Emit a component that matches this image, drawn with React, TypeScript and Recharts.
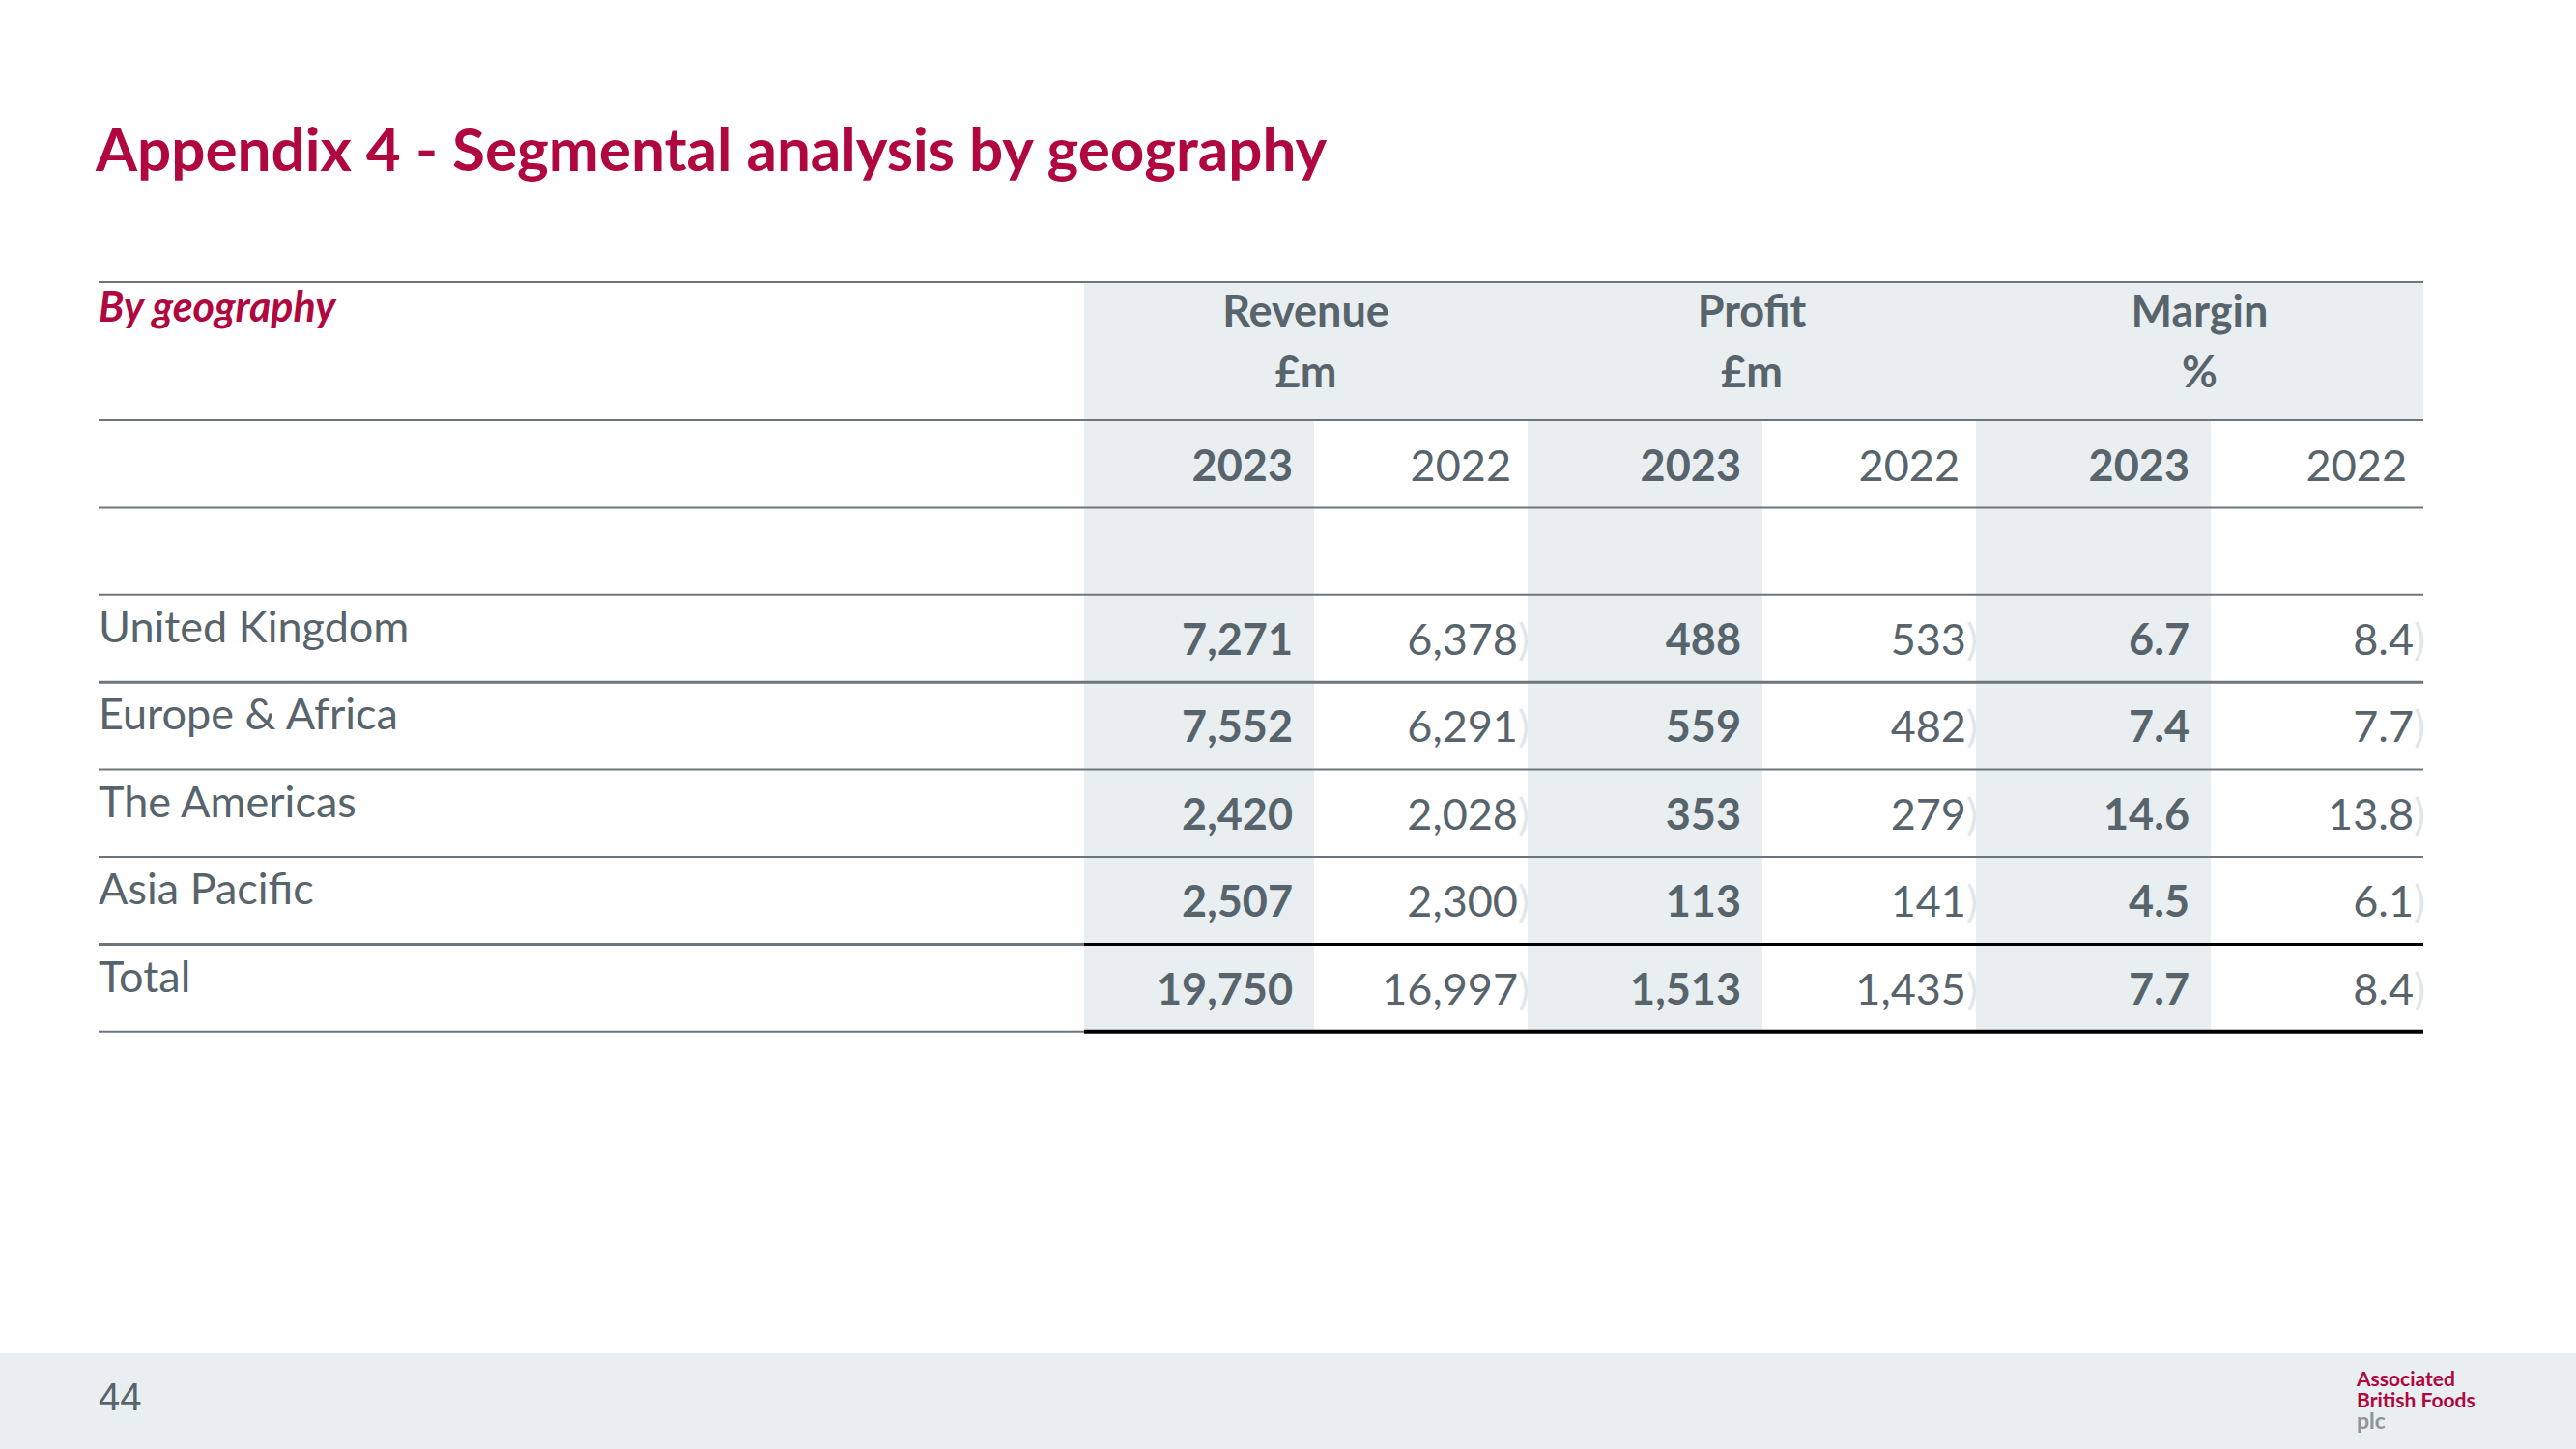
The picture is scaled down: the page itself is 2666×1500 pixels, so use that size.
import React from 'react';
import {
  ScatterChart,
  Scatter,
  XAxis,
  YAxis,
  ReferenceArea,
  ReferenceLine,
  Customized,
} from 'recharts';

// ---------------- data ----------------
const titleText = 'Appendix 4 - Segmental analysis by geography';
const sectionLabel = 'By geography';
const regions = ['United Kingdom', 'Europe & Africa', 'The Americas', 'Asia Pacific', 'Total'];
const groupTitles = ['Revenue', 'Profit', 'Margin'];
const groupUnits = ['£m', '£m', '%'];
const yearLabels = ['2023', '2022'];
const revenue2023 = [7271, 7552, 2420, 2507, 19750];
const revenue2022 = [6378, 6291, 2028, 2300, 16997];
const profit2023 = [488, 559, 353, 113, 1513];
const profit2022 = [533, 482, 279, 141, 1435];
const margin2023 = [6.7, 7.4, 14.6, 4.5, 7.7];
const margin2022 = [8.4, 7.7, 13.8, 6.1, 8.4];
const pageNumber = '44';
const logoLines = ['Associated', 'British Foods', 'plc'];

// ---------------- layout / style ----------------
const W = 2666;
const H = 1500;
const TABLE_LEFT = 102;
const COL_EDGES = [1122, 1360, 1581, 1824, 2045, 2288, 2508];
const HEADER_TOP = 292;
const YEAR_ROW_TOP = 435;
const ROW_H = 90.4;
const FOOTER_TOP = 1401;
const REGION_ROW0 = 2;

const FONT = 'Lato, "Open Sans", sans-serif';
const TEXT = '#58646c';
const CRIMSON = '#b0073f';
const SHADE = '#e9eef1';
const RULE = '#6d767c';
const FAINT = '#e1e7eb';
const BODY_SIZE = 45;

const px2row = (p: number) => (p - YEAR_ROW_TOP) / ROW_H;

const columns = [revenue2023, revenue2022, profit2023, profit2022, margin2023, margin2022];
const isMargin = (c: number) => c >= 4;
const fmt = (v: number, c: number) =>
  isMargin(c) ? v.toFixed(1) : v.toLocaleString('en-GB');

// scatter datasets
const valueCells = columns.flatMap((col, c) =>
  col.map((v, i) => ({
    x: COL_EDGES[c + 1],
    y: REGION_ROW0 + i + 0.5,
    label: fmt(v, c),
    current: c % 2 === 0,
  }))
);
const rowLabelCells = regions.map((r, i) => ({ x: TABLE_LEFT, y: REGION_ROW0 + i + 0.5, label: r }));
const yearCells = columns.map((_, c) => ({
  x: COL_EDGES[c + 1],
  y: 0.5,
  label: yearLabels[c % 2],
  current: c % 2 === 0,
}));
const groupCells = groupTitles.map((g, k) => ({
  x: (COL_EDGES[2 * k] + COL_EDGES[2 * k + 2]) / 2,
  y: px2row((HEADER_TOP + YEAR_ROW_TOP) / 2),
  label: g,
  unit: groupUnits[k],
}));
const sectionCell = [{ x: TABLE_LEFT, y: px2row((HEADER_TOP + YEAR_ROW_TOP) / 2), label: sectionLabel }];

const ValueShape = (p: any) => {
  const { cx, cy, payload } = p;
  if (payload.current) {
    return (
      <text x={cx - 22} y={cy + 17} textAnchor="end" fontFamily={FONT} fontSize={BODY_SIZE} fontWeight={700} fill={TEXT}>
        {payload.label}
      </text>
    );
  }
  return (
    <text x={cx + 2} y={cy + 17} textAnchor="end" fontFamily={FONT} fontSize={BODY_SIZE} fontWeight={400} fill={TEXT}>
      <tspan>{payload.label}</tspan>
      <tspan fill={FAINT}>)</tspan>
    </text>
  );
};

const YearShape = (p: any) => {
  const { cx, cy, payload } = p;
  return (
    <text
      x={cx - (payload.current ? 22 : 17)}
      y={cy + 18}
      textAnchor="end"
      fontFamily={FONT}
      fontSize={BODY_SIZE}
      fontWeight={payload.current ? 700 : 400}
      fill={TEXT}
    >
      {payload.label}
    </text>
  );
};

const RowLabelShape = (p: any) => {
  const { cx, cy, payload } = p;
  return (
    <text x={cx} y={cy + 4} textAnchor="start" fontFamily={FONT} fontSize={BODY_SIZE} fill={TEXT}>
      {payload.label}
    </text>
  );
};

const GroupShape = (p: any) => {
  const { cx, cy, payload } = p;
  return (
    <g>
      <text x={cx} y={cy - 26} textAnchor="middle" fontFamily={FONT} fontSize={BODY_SIZE} fontWeight={700} fill={TEXT}>
        {payload.label}
      </text>
      <text x={cx} y={cy + 37} textAnchor="middle" fontFamily={FONT} fontSize={BODY_SIZE} fontWeight={700} fill={TEXT}>
        {payload.unit}
      </text>
    </g>
  );
};

const SectionShape = (p: any) => {
  const { cx, cy, payload } = p;
  return (
    <text x={cx} y={cy - 31} textAnchor="start" fontFamily={FONT} fontSize={43} fontWeight={700} fontStyle="italic" fill={CRIMSON}>
      {payload.label}
    </text>
  );
};

const StaticText = () => (
  <g>
    <rect x={0} y={FOOTER_TOP} width={W} height={H - FOOTER_TOP} fill={SHADE} />
    <text x={99} y={177} fontFamily={FONT} fontSize={62} fontWeight={700} fill={CRIMSON}>
      {titleText}
    </text>
    <text x={102} y={1460} fontFamily='"Liberation Sans", Arial, sans-serif' fontSize={40} fill={TEXT}>
      {pageNumber}
    </text>
    <text x={2439} y={1435} fontFamily={FONT} fontSize={21} fontWeight={700} fill={CRIMSON}>
      <tspan x={2439} y={1435}>{logoLines[0]}</tspan>
      <tspan x={2439} y={1457}>{logoLines[1]}</tspan>
      <tspan x={2439} y={1479} fill="#8d9397" fontSize={23}>{logoLines[2]}</tspan>
    </text>
  </g>
);

export default function App() {
  const fullRows = [px2row(HEADER_TOP), 0, 1, 2, 4, 5];
  return (
    <div style={{ position: 'absolute', left: 0, top: 0, width: W, height: H, background: '#fff' }}>
      <ScatterChart width={W} height={H} margin={{ top: 0, right: 0, bottom: 0, left: 0 }}>
        <XAxis type="number" dataKey="x" domain={[0, W]} hide allowDataOverflow scale="linear" />
        <YAxis
          type="number"
          dataKey="y"
          domain={[px2row(0), px2row(H)]}
          reversed
          hide
          allowDataOverflow
          scale="linear"
        />
        <Customized component={StaticText} />
        {/* header band */}
        <ReferenceArea
          x1={COL_EDGES[0]}
          x2={COL_EDGES[6]}
          y1={px2row(HEADER_TOP)}
          y2={0}
          fill={SHADE}
          fillOpacity={1}
          ifOverflow="visible"
        />
        {/* current year columns */}
        {[0, 2, 4].map((c) => (
          <ReferenceArea
            key={'sh' + c}
            x1={COL_EDGES[c]}
            x2={COL_EDGES[c + 1]}
            y1={0}
            y2={REGION_ROW0 + regions.length}
            fill={SHADE}
            fillOpacity={1}
            ifOverflow="visible"
          />
        ))}

        {fullRows.map((r) => (
          <ReferenceLine
            key={'l' + r}
            segment={[
              { x: TABLE_LEFT, y: r },
              { x: COL_EDGES[6], y: r },
            ]}
            stroke={RULE}
            strokeWidth={2}
            ifOverflow="visible"
          />
        ))}
        <ReferenceLine
          segment={[
            { x: TABLE_LEFT, y: 3 },
            { x: COL_EDGES[6], y: 3 },
          ]}
          stroke={RULE}
          strokeWidth={3}
          ifOverflow="visible"
        />
        <ReferenceLine
          segment={[
            { x: TABLE_LEFT, y: 6 },
            { x: COL_EDGES[0], y: 6 },
          ]}
          stroke={RULE}
          strokeWidth={3}
          ifOverflow="visible"
        />
        <ReferenceLine
          segment={[
            { x: COL_EDGES[0], y: 6 },
            { x: COL_EDGES[6], y: 6 },
          ]}
          stroke="#000"
          strokeWidth={3}
          ifOverflow="visible"
        />
        <ReferenceLine
          segment={[
            { x: TABLE_LEFT, y: 7 },
            { x: COL_EDGES[0], y: 7 },
          ]}
          stroke={RULE}
          strokeWidth={2}
          ifOverflow="visible"
        />
        <ReferenceLine
          segment={[
            { x: COL_EDGES[0], y: 7 },
            { x: COL_EDGES[6], y: 7 },
          ]}
          stroke="#000"
          strokeWidth={4}
          ifOverflow="visible"
        />

        <Scatter data={groupCells} shape={GroupShape} isAnimationActive={false} legendType="none" />
        <Scatter data={sectionCell} shape={SectionShape} isAnimationActive={false} legendType="none" />
        <Scatter data={yearCells} shape={YearShape} isAnimationActive={false} legendType="none" />
        <Scatter data={rowLabelCells} shape={RowLabelShape} isAnimationActive={false} legendType="none" />
        <Scatter data={valueCells} shape={ValueShape} isAnimationActive={false} legendType="none" />
      </ScatterChart>
    </div>
  );
}
